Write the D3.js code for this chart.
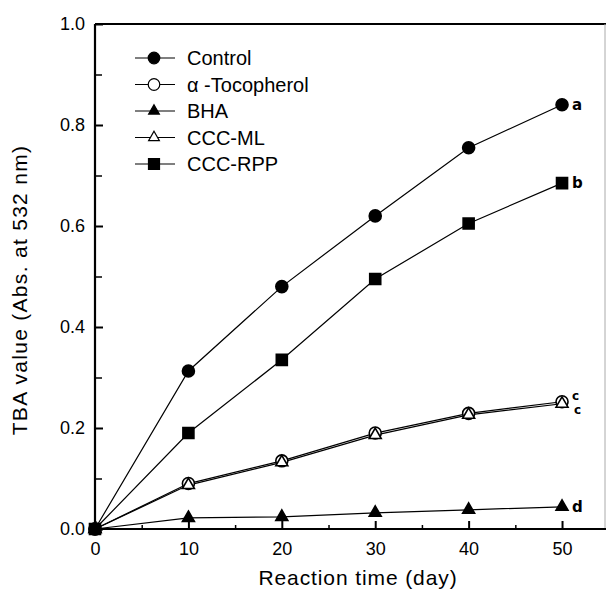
<!DOCTYPE html>
<html><head><meta charset="utf-8">
<script src="https://cdn.jsdelivr.net/npm/d3@7"></script>
<style>body{margin:0;background:#fff}svg{display:block}</style>
</head><body>
<svg id="c" width="606" height="596"></svg>
<script>
const days = [0, 10, 20, 30, 40, 50];
const control = [0, 0.313, 0.48, 0.62, 0.755, 0.84];
const tocopherol = [0, 0.09, 0.135, 0.19, 0.229, 0.252];
const bha = [0, 0.022, 0.024, 0.032, 0.038, 0.044];
const cccML = [0, 0.087, 0.132, 0.186, 0.226, 0.248];
const cccRPP = [0, 0.19, 0.335, 0.495, 0.605, 0.685];
const seriesNames = ["Control", "\u03b1 -Tocopherol", "BHA", "CCC-ML", "CCC-RPP"];
const xTicks = [0, 10, 20, 30, 40, 50];
const yTicks = [0, 0.2, 0.4, 0.6, 0.8, 1.0];
const letters = [["a", 50, 0.84], ["b", 50, 0.685], ["c", 50, 0.265], ["c", 50, 0.238], ["d", 50, 0.044]];

const series = [
  {name: seriesNames[0], vals: control, shape: "circle", fill: "#000"},
  {name: seriesNames[1], vals: tocopherol, shape: "circle", fill: "#fff"},
  {name: seriesNames[2], vals: bha, shape: "triangle", fill: "#000"},
  {name: seriesNames[3], vals: cccML, shape: "triangle", fill: "#fff"},
  {name: seriesNames[4], vals: cccRPP, shape: "square", fill: "#000"}
];

const svg = d3.select("#c");
const L = 95, R = 605, T = 24, B = 529;
const x = d3.scaleLinear().domain([0, 54.6]).range([L, R]);
const y = d3.scaleLinear().domain([0, 1]).range([B, T]);
const font = "'Liberation Sans', Arial, sans-serif";

const sym = {
  circle: d3.symbol().type(d3.symbolCircle).size(113),
  triangle: d3.symbol().type(d3.symbolTriangle).size(62),
  square: d3.symbol().type(d3.symbolSquare).size(121)
};
const legSym = {
  circle: d3.symbol().type(d3.symbolCircle).size(105),
  triangle: d3.symbol().type(d3.symbolTriangle).size(50),
  square: d3.symbol().type(d3.symbolSquare).size(121)
};

// frame
svg.append("line").attr("x1", L).attr("x2", 606).attr("y1", T).attr("y2", T).attr("stroke", "#000").attr("stroke-width", 2);
svg.append("line").attr("x1", R).attr("x2", R).attr("y1", T).attr("y2", B).attr("stroke", "#aaa").attr("stroke-width", 1);

// minor ticks
const gx = svg.append("g").attr("transform", `translate(0,${B})`);
gx.call(d3.axisBottom(x).tickValues([5, 15, 25, 35, 45]).tickSizeInner(-4).tickSizeOuter(0).tickFormat(""));
const gy = svg.append("g").attr("transform", `translate(${L},0)`);
gy.call(d3.axisLeft(y).tickValues([0.1, 0.3, 0.5, 0.7, 0.9]).tickSizeInner(-7).tickSizeOuter(0).tickFormat(""));
[gx, gy].forEach(g => { g.select(".domain").remove(); g.selectAll("line").attr("stroke-width", 1.5); });

// major axes
const ax = svg.append("g").attr("transform", `translate(0,${B})`)
  .call(d3.axisBottom(x).tickValues(xTicks).tickSizeInner(-8).tickSizeOuter(0).tickPadding(13).tickFormat(d3.format("d")));
ax.select(".domain").attr("stroke-width", 2.2).attr("d", `M${L},0H606`);
const ay = svg.append("g").attr("transform", `translate(${L},0)`)
  .call(d3.axisLeft(y).tickValues(yTicks).tickSizeInner(-8).tickSizeOuter(0).tickPadding(10).tickFormat(d3.format(".1f")));
ay.select(".domain").attr("stroke-width", 2.2).attr("d", `M0,${B}V${T}`);
[ax, ay].forEach(g => {
  g.selectAll("line").attr("stroke-width", 2);
  g.selectAll("text").attr("font-family", font).attr("font-size", 18).attr("fill", "#000");
});

// axis titles
svg.append("text").attr("x", 358).attr("y", 585).attr("text-anchor", "middle")
  .attr("font-family", font).attr("font-size", 21).attr("letter-spacing", 0.9).text("Reaction time (day)");
svg.append("text").attr("transform", "translate(27,290) rotate(-90)").attr("text-anchor", "middle")
  .attr("font-family", font).attr("font-size", 21).attr("letter-spacing", 1.3).text("TBA value (Abs. at 532 nm)");

// lines
const line = d3.line().x((d, i) => x(days[i])).y(d => y(d));
series.forEach(s => {
  svg.append("path").attr("d", line(s.vals)).attr("fill", "none").attr("stroke", "#000").attr("stroke-width", 1.2);
});
series.forEach(s => {
  svg.append("g").selectAll("path").data(s.vals).join("path")
    .attr("transform", (d, i) => `translate(${x(days[i])},${y(d)})`)
    .attr("d", sym[s.shape]()).attr("fill", s.fill).attr("stroke", "#000").attr("stroke-width", 1.6);
});

// letters
svg.append("g").selectAll("text").data(letters).join("text")
  .attr("x", (d, i) => x(d[1]) + (i === 3 ? 12 : 10)).attr("y", d => y(d[2]) + 5)
  .attr("font-family", "'DejaVu Sans', sans-serif").attr("font-weight", "bold")
  .attr("font-size", (d, i) => (i === 2 || i === 3) ? 12 : 15)
  .text(d => d[0]);

// legend
const lg = svg.append("g");
series.forEach((s, i) => {
  const yy = 58 + i * 26.5;
  lg.append("line").attr("x1", 135).attr("x2", 175).attr("y1", yy).attr("y2", yy).attr("stroke", "#000").attr("stroke-width", 1.2);
  lg.append("path").attr("transform", `translate(154,${yy})`).attr("d", legSym[s.shape]())
    .attr("fill", s.fill).attr("stroke", "#000").attr("stroke-width", 1.2);
  lg.append("text").attr("x", 187).attr("y", yy + 7).attr("font-family", font).attr("font-size", 20).text(s.name);
});
</script>
</body></html>
